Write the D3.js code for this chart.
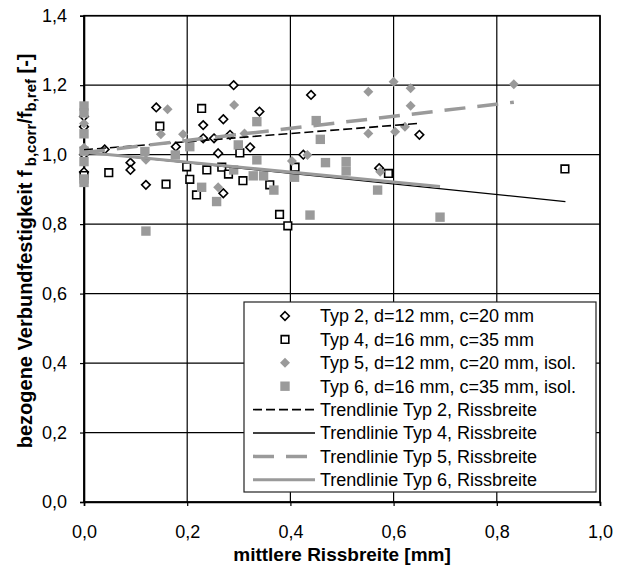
<!DOCTYPE html>
<html>
<head>
<meta charset="utf-8">
<script src="https://cdn.jsdelivr.net/npm/d3@7/dist/d3.min.js"></script>
<style>
  body { margin: 0; background: #fff; }
  text { font-family: Arial, "Liberation Sans", sans-serif; fill: #000; }
</style>
</head>
<body>
<svg id="chart" width="624" height="572"></svg>
<script>
// Measured bond strength ratio vs. mean crack width, four specimen types
const typ2X = [0, 0, 0, 0, 0.04, 0.09, 0.09, 0.12, 0.14, 0.178, 0.231, 0.231, 0.252, 0.26, 0.27, 0.27, 0.283, 0.29, 0.322, 0.34, 0.425, 0.44, 0.572, 0.65];
const typ2Y = [1.11, 1.08, 1.0, 0.95, 1.015, 0.977, 0.956, 0.913, 1.136, 1.023, 1.085, 1.047, 1.047, 1.004, 1.102, 0.889, 1.057, 1.2, 1.021, 1.124, 1.0, 1.172, 0.961, 1.057];

const typ4X = [0, 0.048, 0.147, 0.159, 0.199, 0.205, 0.218, 0.228, 0.238, 0.267, 0.28, 0.302, 0.308, 0.36, 0.379, 0.395, 0.409, 0.59, 0.932];
const typ4Y = [0.94, 0.948, 1.082, 0.915, 0.965, 0.929, 0.884, 1.133, 0.956, 0.964, 0.944, 1.005, 0.925, 0.913, 0.828, 0.795, 0.964, 0.946, 0.959];

const typ5X = [0, 0, 0.12, 0.149, 0.162, 0.192, 0.26, 0.291, 0.311, 0.403, 0.433, 0.551, 0.551, 0.574, 0.6, 0.603, 0.622, 0.633, 0.633, 0.833];
const typ5Y = [1.09, 1.02, 0.985, 1.059, 1.131, 1.059, 0.906, 1.143, 1.061, 0.982, 0.999, 1.181, 1.061, 0.951, 1.21, 1.066, 1.08, 1.191, 1.141, 1.203];

const typ6X = [0, 0, 0, 0, 0, 0, 0, 0.118, 0.12, 0.177, 0.205, 0.228, 0.257, 0.29, 0.299, 0.328, 0.335, 0.335, 0.348, 0.368, 0.408, 0.438, 0.45, 0.458, 0.468, 0.508, 0.508, 0.569, 0.69];
const typ6Y = [1.14, 1.12, 1.06, 1.01, 0.98, 0.93, 0.92, 1.009, 0.78, 0.999, 1.023, 0.906, 0.865, 0.956, 1.028, 0.939, 1.095, 0.985, 0.939, 0.898, 0.935, 0.826, 1.098, 1.044, 0.977, 0.98, 0.953, 0.898, 0.82];

// Linear trend lines: [start, end] in data units
const trend2X = [0, 0.65],  trend2Y = [1.014, 1.090];
const trend4X = [0, 0.933], trend4Y = [1.007, 0.865];
const trend5X = [0, 0.833], trend5Y = [1.006, 1.151];
const trend6X = [0, 0.69],  trend6Y = [1.007, 0.908];

const xTicks = [0, 0.2, 0.4, 0.6, 0.8, 1.0];
const yTicks = [0, 0.2, 0.4, 0.6, 0.8, 1.0, 1.2, 1.4];

const legendLabels = [
  "Typ 2, d=12 mm, c=20 mm",
  "Typ 4, d=16 mm, c=35 mm",
  "Typ 5, d=12 mm, c=20 mm, isol.",
  "Typ 6, d=16 mm, c=35 mm, isol.",
  "Trendlinie Typ 2, Rissbreite",
  "Trendlinie Typ 4, Rissbreite",
  "Trendlinie Typ 5, Rissbreite",
  "Trendlinie Typ 6, Rissbreite"
];

const GRAY = "#9a9a9a";
const svg = d3.select("#chart");
const W = 624, H = 572;
const margin = { left: 84, right: 24, top: 15.7, bottom: 70 };

const x = d3.scaleLinear().domain([0, 1]).range([margin.left, W - margin.right]);
const y = d3.scaleLinear().domain([0, 1.4]).range([H - margin.bottom, margin.top]);
const fmt = v => d3.format(".1f")(v).replace(".", ",");

// Grid
const grid = svg.append("g");
grid.selectAll("line.h").data(yTicks).join("line")
  .attr("x1", x(0)).attr("x2", x(1))
  .attr("y1", d => y(d)).attr("y2", d => y(d))
  .attr("stroke", "#000").attr("stroke-width", 1.2);
grid.selectAll("line.v").data(xTicks).join("line")
  .attr("y1", y(0)).attr("y2", y(1.4))
  .attr("x1", d => x(d)).attr("x2", d => x(d))
  .attr("stroke", "#000").attr("stroke-width", 1.2);

// Axes
const xAxis = d3.axisBottom(x).tickValues(xTicks).tickFormat(fmt).tickSize(4).tickPadding(19);
const yAxis = d3.axisLeft(y).tickValues(yTicks).tickFormat(fmt).tickSize(4).tickPadding(13);
const gx = svg.append("g").attr("transform", `translate(0,${y(0)})`).call(xAxis);
const gy = svg.append("g").attr("transform", `translate(${x(0)},0)`).call(yAxis);
[gx, gy].forEach(g => {
  g.select(".domain").attr("stroke", "#000").attr("stroke-width", 1.6);
  g.selectAll(".tick line").attr("stroke", "#000").attr("stroke-width", 1.2);
  g.selectAll(".tick text").attr("font-size", 18).attr("font-family", "Arial, 'Liberation Sans', sans-serif");
});
svg.append("rect").attr("x", x(0)).attr("y", y(1.4)).attr("width", x(1) - x(0)).attr("height", y(0) - y(1.4))
  .attr("fill", "none").attr("stroke", "#000").attr("stroke-width", 1.6);

// Markers
function diamondPath(r) { return `M0,${-r}L${r},0L0,${r}L${-r},0Z`; }
function squarePath(h) { return `M${-h},${-h}H${h}V${h}H${-h}Z`; }

const series = [
  { xs: typ2X, ys: typ2Y, path: diamondPath(4.3), fill: "#fff", stroke: "#000", sw: 1.6 },
  { xs: typ4X, ys: typ4Y, path: squarePath(3.8), fill: "#fff", stroke: "#000", sw: 1.6 },
  { xs: typ5X, ys: typ5Y, path: diamondPath(5), fill: GRAY, stroke: "none", sw: 0 },
  { xs: typ6X, ys: typ6Y, path: squarePath(4.7), fill: GRAY, stroke: "none", sw: 0 }
];
series.forEach(s => {
  svg.append("g").selectAll("path").data(s.xs.map((v, i) => [v, s.ys[i]])).join("path")
    .attr("d", s.path)
    .attr("transform", d => `translate(${x(d[0])},${y(d[1])})`)
    .attr("fill", s.fill).attr("stroke", s.stroke).attr("stroke-width", s.sw);
});

// Trend lines
const trends = [
  { xs: trend2X, ys: trend2Y, stroke: "#000", sw: 1.6, dash: "9,4" },
  { xs: trend4X, ys: trend4Y, stroke: "#000", sw: 1.3, dash: null },
  { xs: trend5X, ys: trend5Y, stroke: GRAY, sw: 3.5, dash: "21,12" },
  { xs: trend6X, ys: trend6Y, stroke: GRAY, sw: 3, dash: null }
];
const line = d3.line().x(d => x(d[0])).y(d => y(d[1]));
trends.forEach(t => {
  svg.append("path").datum(t.xs.map((v, i) => [v, t.ys[i]]))
    .attr("d", line).attr("fill", "none")
    .attr("stroke", t.stroke).attr("stroke-width", t.sw)
    .attr("stroke-dasharray", t.dash);
});

// Legend
const lg = svg.append("g");
const lgX = 244, lgY = 302, lgW = 352, lgH = 190, rowH = 23.4, firstRow = 316;
lg.append("rect").attr("x", lgX).attr("y", lgY).attr("width", lgW).attr("height", lgH)
  .attr("fill", "#fff").attr("stroke", "#222").attr("stroke-width", 1.2);
legendLabels.forEach((lab, i) => {
  const cy = firstRow + i * rowH;
  if (i < 4) {
    const s = series[i];
    lg.append("path").attr("d", s.path).attr("transform", `translate(285,${cy})`)
      .attr("fill", s.fill).attr("stroke", s.stroke).attr("stroke-width", s.sw);
  } else {
    const t = trends[i - 4];
    lg.append("line").attr("x1", 253).attr("x2", 315).attr("y1", cy).attr("y2", cy)
      .attr("stroke", t.stroke).attr("stroke-width", t.sw).attr("stroke-dasharray", t.dash);
  }
  lg.append("text").attr("x", 320).attr("y", cy).attr("dy", "0.35em")
    .attr("font-size", 18).text(lab);
});

// Axis titles
svg.append("text").attr("x", (x(0) + x(1)) / 2).attr("y", 561)
  .attr("text-anchor", "middle").attr("font-size", 19).attr("font-weight", "bold")
  .text("mittlere Rissbreite [mm]");

const yt = svg.append("text")
  .attr("transform", `translate(32,${(y(0) + y(1.4)) / 2 - 8}) rotate(-90)`)
  .attr("text-anchor", "middle").attr("font-size", 20).attr("font-weight", "bold");
yt.append("tspan").text("bezogene Verbundfestigkeit f");
yt.append("tspan").attr("font-size", 15).attr("dy", 4).text(" b,corr");
yt.append("tspan").attr("dy", -4).text("/f");
yt.append("tspan").attr("font-size", 15).attr("dy", 4).text("b,ref");
yt.append("tspan").attr("dy", -4).text(" [-]");
</script>
</body>
</html>
